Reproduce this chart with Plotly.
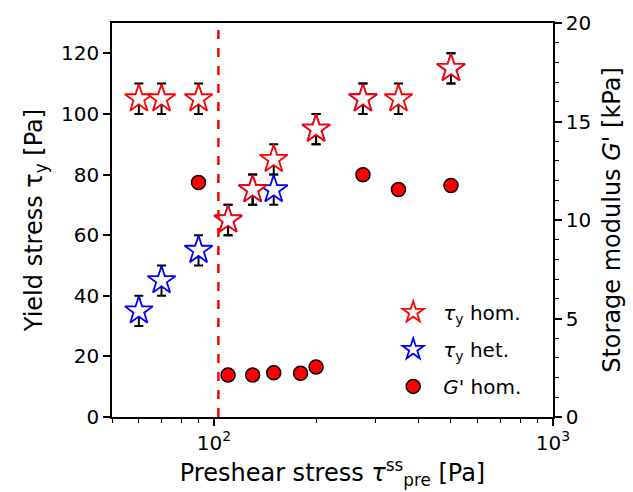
import numpy as np
import plotly.graph_objects as go

# data
x_hom = [60, 70, 90, 110, 130, 150, 200, 275, 350, 500]
ty_hom = [105, 105, 105, 65, 75, 85, 95, 105, 105, 115]
x_het = [60, 70, 90, 110, 130, 150, 200, 275, 500]
ty_het = [35, 45, 55, 65, 75, 75, 95, 105, 115]
err = 5
x_g = [90, 110, 130, 150, 180, 200, 275, 350, 500]
g_hom = [11.9, 2.13, 2.13, 2.25, 2.22, 2.54, 12.3, 11.55, 11.75]
x_crit = 103

font = "DejaVu Sans"
fig = go.Figure()

# error bars (drawn beneath the stars)
for xs, ys in [(x_het, ty_het), (x_hom, ty_hom)]:
    fig.add_trace(go.Scatter(
        x=xs, y=ys, mode="markers", showlegend=False, hoverinfo="skip",
        marker=dict(size=1, color="rgba(0,0,0,0)"),
        error_y=dict(type="constant", value=err, color="black", thickness=2, width=4.5)))

fig.add_trace(go.Scatter(
    x=x_het, y=ty_het, mode="markers", name="<i>τ</i><sub>y</sub> het.",
    legendgroup="b", legendrank=2,
    marker=dict(symbol="star", size=21, color="white", line=dict(color="blue", width=1.8))))
fig.add_trace(go.Scatter(
    x=x_hom, y=ty_hom, mode="markers", name="<i>τ</i><sub>y</sub> hom.",
    legendgroup="a", legendrank=1,
    marker=dict(symbol="star", size=21, color="white", line=dict(color="red", width=1.8))))
fig.add_trace(go.Scatter(
    x=x_g, y=g_hom, mode="markers", name="<i>G</i>' hom.", yaxis="y2",
    legendgroup="c", legendrank=3,
    marker=dict(symbol="circle", size=14, color="red", line=dict(color="black", width=1.5))))

fig.add_shape(type="line", x0=x_crit, x1=x_crit, xref="x", y0=0, y1=1, yref="paper",
              line=dict(color="red", width=2.5, dash="dash"))

fig.update_layout(
    width=633, height=492,
    margin=dict(l=112, r=80, t=23, b=75),
    plot_bgcolor="white", paper_bgcolor="white",
    font=dict(family=font, size=20, color="black"),
    xaxis=dict(
        type="log", range=[np.log10(50), 3],
        tickvals=[100, 1000], ticktext=["10<sup>2</sup>", "10<sup>3</sup>"],
        ticks="outside", ticklen=7, tickwidth=1.5, tickcolor="black",
        minor=dict(tickvals=[50, 60, 70, 80, 90, 200, 300, 400, 500, 600, 700, 800, 900],
                   ticks="outside", ticklen=4, tickwidth=1, tickcolor="black"),
        showline=True, linecolor="black", linewidth=1.5, mirror=True,
        showgrid=False, zeroline=False,
        title=dict(text="Preshear stress <i>τ</i><sup>ss</sup><sub>pre</sub> [Pa]", standoff=8),
    ),
    yaxis=dict(
        range=[0, 130], tickvals=[0, 20, 40, 60, 80, 100, 120],
        ticks="outside", ticklen=7, tickwidth=1.5, tickcolor="black",
        showline=True, linecolor="black", linewidth=1.5,
        showgrid=False, zeroline=False,
        title=dict(text="Yield stress τ<sub>y</sub> [Pa]", standoff=12),
    ),
    yaxis2=dict(
        overlaying="y", side="right", range=[0, 20], tickvals=[0, 5, 10, 15, 20],
        ticks="outside", ticklen=7, tickwidth=1.5, tickcolor="black",
        minor=dict(dtick=1, ticks="outside", ticklen=4, tickwidth=1, tickcolor="black"),
        showline=True, linecolor="black", linewidth=1.5,
        showgrid=False, zeroline=False,
        title=dict(text="Storage modulus <i>G</i>' [kPa]", standoff=13),
    ),
    legend=dict(x=0.615, y=0.315, xanchor="left", yanchor="top",
                bgcolor="rgba(0,0,0,0)", font=dict(size=20),
                tracegroupgap=8, itemsizing="trace", itemwidth=50),
)

fig.write_html("out.html")
